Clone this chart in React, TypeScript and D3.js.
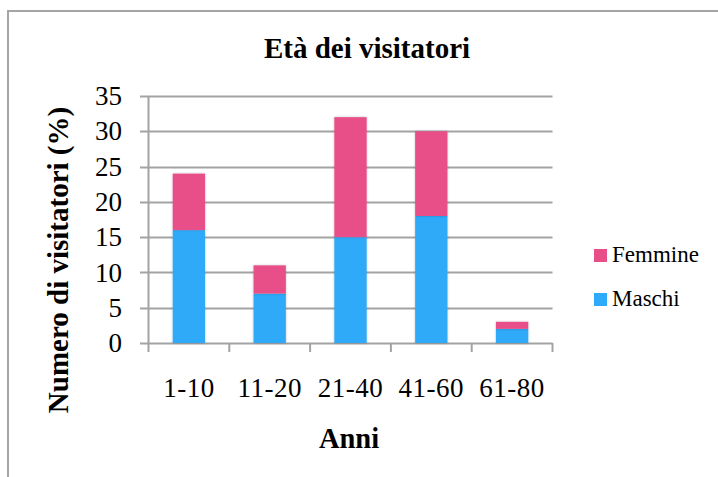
import React from "react";
import * as d3 from "d3";

const categories = ["1-10", "11-20", "21-40", "41-60", "61-80"];
const maschi = [16, 7, 15, 18, 2];
const femmine = [8, 4, 17, 12, 1];
const yTicks = [0, 5, 10, 15, 20, 25, 30, 35];
const seriesNames = ["Maschi", "Femmine"];
const seriesColors = ["#2DAAF9", "#E84F88"];

const FONT = "Liberation Serif";
const GRID = "#A3A3A3";

export default function App() {
  const W = 718;
  const H = 477;
  const left = 148.5;
  const right = 552.5;
  const top = 96;
  const bottom = 343;

  const x = d3.scaleBand<string>().domain(categories).range([left, right]).paddingInner(0.6).paddingOuter(0.3);
  const y = d3.scaleLinear().domain([0, 35]).range([bottom, top]);

  const rows = categories.map((c, i) => ({ cat: c, Maschi: maschi[i], Femmine: femmine[i] }));
  const stack = d3.stack<any>().keys(seriesNames);
  const stacked = stack(rows);

  const step = x.step();
  const boundaries = d3.range(categories.length + 1).map((i) => left + i * step);

  const tf = { fontFamily: FONT };

  return (
    <svg width={W} height={H} style={{ position: "absolute", left: 0, top: 0, background: "#fff" }}>
      <defs>
        <filter id="sh" x="-20%" y="-20%" width="140%" height="140%">
          <feDropShadow dx="0" dy="0" stdDeviation="1" floodColor="#000" floodOpacity="0.25" />
        </filter>
      </defs>
      {/* chart frame */}
      <path d={`M8,${H + 5} V11 H${W + 5}`} fill="none" stroke="#A5A5A5" strokeWidth={2} />

      {/* title */}
      <text x={367} y={58} textAnchor="middle" fontSize={29} fontWeight="bold" fill="#000" style={tf}>
        Età dei visitatori
      </text>

      {/* gridlines */}
      {yTicks.map((t) => (
        <line key={t} x1={140} x2={right} y1={Math.round(y(t)) + 0.5} y2={Math.round(y(t)) + 0.5} stroke={GRID} strokeWidth={2} />
      ))}
      {/* y axis */}
      <line x1={left} x2={left} y1={top} y2={bottom} stroke={GRID} strokeWidth={2} />
      {/* x tick marks */}
      {boundaries.map((b, i) => (
        <line key={i} x1={b} x2={b} y1={bottom} y2={352} stroke={GRID} strokeWidth={2} />
      ))}

      {/* bars */}
      {stacked.map((s, si) => (
        <g key={s.key} fill={seriesColors[si]} filter="url(#sh)">
          {s.map((d, i) => (
            <rect key={i} x={x(categories[i])} width={x.bandwidth()} y={y(d[1])} height={y(d[0]) - y(d[1])} />
          ))}
        </g>
      ))}

      {/* y tick labels */}
      {yTicks.map((t) => (
        <text key={t} x={122} y={y(t)} dy="0.34em" textAnchor="end" fontSize={27} fill="#000" style={tf}>
          {t}
        </text>
      ))}

      {/* x tick labels */}
      {categories.map((c) => (
        <text key={c} x={(x(c) as number) + x.bandwidth() / 2} y={397} textAnchor="middle" fontSize={27} fill="#000" style={{ ...tf, letterSpacing: 0.5 }}>
          {c}
        </text>
      ))}

      {/* axis titles */}
      <text x={349} y={448} textAnchor="middle" fontSize={28.5} fontWeight="bold" fill="#000" style={tf}>
        Anni
      </text>
      <text transform={`translate(68,260) rotate(-90)`} textAnchor="middle" fontSize={29} fontWeight="bold" fill="#000" style={tf}>
        Numero di visitatori (%)
      </text>

      {/* legend */}
      {[1, 0].map((si, k) => (
        <g key={si}>
          <rect x={594} y={249 + k * 44} width={13} height={13} fill={seriesColors[si]} />
          <text x={612} y={262 + k * 44} fontSize={23} fill="#000" style={tf}>
            {seriesNames[si]}
          </text>
        </g>
      ))}
    </svg>
  );
}
